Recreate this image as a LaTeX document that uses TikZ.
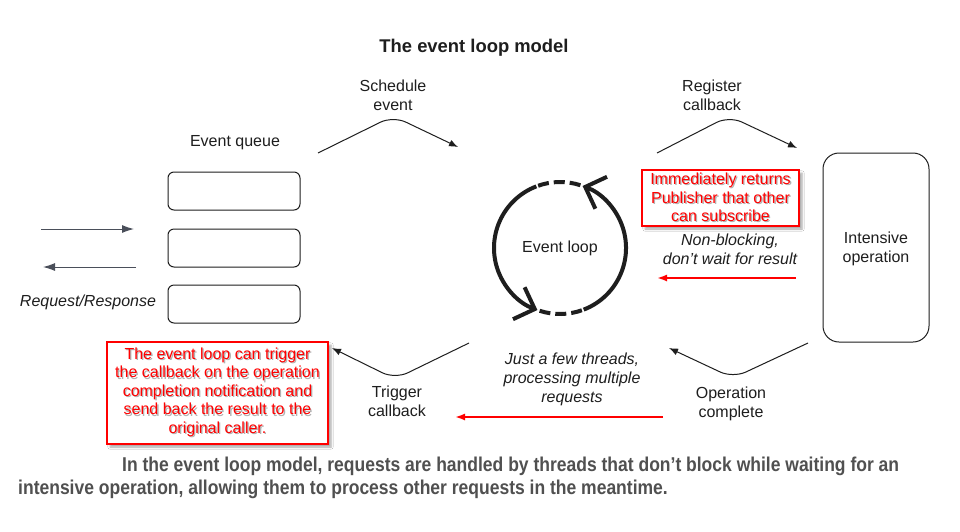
\documentclass[tikz,border=0pt]{standalone}
\usepackage{fontspec}
\setmainfont{Liberation Sans}
\newfontfamily\capfont[FakeStretch=0.875]{Liberation Sans}
\usetikzlibrary{arrows.meta,shadows.blur}
\definecolor{ink}{HTML}{1E1E1E}
\definecolor{arrowgray}{HTML}{4A4F5A}
\definecolor{capgray}{HTML}{505050}
\newcommand{\shtxt}[1]{\leavevmode\rlap{\hspace{1.3pt}\raisebox{-1.3pt}{\textcolor{black!30}{#1}}}#1}
\tikzset{
  lbl/.style={font=\fontsize{16}{19}\selectfont, text=ink, align=center, inner sep=0pt},
  itl/.style={lbl, font=\fontsize{16}{19}\selectfont\itshape},
  qbox/.style={draw=ink, line width=1pt, rounded corners=6pt, minimum width=132pt, minimum height=38pt, inner sep=0pt},
  flow/.style={draw=ink, line width=1pt, rounded corners=14pt, -{Latex[length=9pt,width=7pt]}},
  redarrow/.style={draw=red, line width=1.8pt, -{Latex[length=10pt,width=7pt]}},
  grayarrow/.style={draw=arrowgray, line width=1pt, -{Latex[length=12pt,width=8pt]}},
  note/.style={draw=red, line width=2.2pt, fill=white, text=red, align=center,
    font=\fontsize{16}{18.5}\selectfont, inner sep=0pt,
    blur shadow={shadow xshift=3pt, shadow yshift=-3pt, shadow blur steps=5, shadow opacity=35}},
  loop/.style={draw=ink, line width=4pt},
  barb/.style={-{Straight Barb[length=17pt,width=34pt]}}
}
\begin{document}
\begin{tikzpicture}[x=1pt,y=1pt]
\useasboundingbox[fill=white] (0,0) rectangle (960,-531);

% title
\node[lbl, font=\fontsize{18.4}{21}\selectfont\bfseries] (title) at (474,-48) {The event loop model};

% event queue
\node[lbl] (eqlabel) at (235,-143) {Event queue};
\node[qbox] (q1) at (234,-191) {};
\node[qbox] (q2) at (234,-248) {};
\node[qbox] (q3) at (234,-304) {};
\node[itl] (rr) at (88,-302) {Request/Response};
\coordinate (inA) at (41,-229);
\coordinate (inB) at (134,-229);
\coordinate (outA) at (136,-267);
\coordinate (outB) at (43,-267);
\draw[grayarrow] (inA) -- (inB);
\draw[grayarrow] (outA) -- (outB);

% schedule event
\node[lbl] (sched) at (393,-95) {Schedule\\event};
\coordinate (s1) at (318,-153);
\coordinate (sv) at (393,-116);
\coordinate (s2) at (458,-147);
\draw[flow] (s1) -- (sv) -- (s2);

% event loop
\node[lbl] (loopc) at (560,-248) {Event loop};
\draw[loop, barb] (560,-248) ++(-69:66) arc[start angle=-69, end angle=70, radius=66];
\draw[loop, dash pattern=on 11pt off 5pt] (560,-248) ++(72:66) arc[start angle=72, end angle=110, radius=66];
\draw[loop, barb] (560,-248) ++(111:66) arc[start angle=111, end angle=250, radius=66];
\draw[loop, dash pattern=on 11pt off 5pt] (560,-248) ++(252:66) arc[start angle=252, end angle=290, radius=66];

% register callback
\node[lbl] (reg) at (712,-95) {Register\\callback};
\coordinate (r1) at (657,-153);
\coordinate (rv) at (729,-116);
\coordinate (r2) at (797,-148);
\draw[flow] (r1) -- (rv) -- (r2);

% intensive operation
\node[draw=ink, line width=1pt, rounded corners=16pt, minimum width=106pt, minimum height=189pt] (intop) at (876,-247.5) {};
\node[lbl] (intxt) at (876,-249) {Intensive\\operation};

% red note top
\node[note, minimum width=157pt, minimum height=56pt] (note1) at (720.5,-198)
  {\shtxt{Immediately returns}\\\shtxt{Publisher that other}\\\shtxt{can subscribe}};

\node[itl] (nonblock) at (730,-249) {Non-blocking,\\don't wait for result};
\coordinate (ra1) at (796,-278);
\coordinate (ra2) at (657,-278);
\draw[redarrow] (ra1) -- (ra2);

% operation complete
\coordinate (o1) at (808,-343);
\coordinate (ov) at (733,-378);
\coordinate (o2) at (669,-348);
\draw[flow] (o1) -- (ov) -- (o2);
\node[lbl] (opc) at (731,-403.5) {Operation\\complete};

% threads
\node[itl] (threads) at (572,-379) {Just a few threads,\\processing multiple\\requests};
\coordinate (rb1) at (663,-417);
\coordinate (rb2) at (455,-417);
\draw[redarrow] (rb1) -- (rb2);

% trigger callback
\coordinate (t1) at (469,-343);
\coordinate (tv) at (395,-379);
\coordinate (t2) at (332,-348);
\draw[flow] (t1) -- (tv) -- (t2);
\node[lbl] (trig) at (397,-401.5) {Trigger\\callback};

% red note bottom
\node[note, minimum width=221pt, minimum height=102pt] (note2) at (217.5,-393)
  {\shtxt{The event loop can trigger}\\\shtxt{the callback on the operation}\\\shtxt{completion notification and}\\\shtxt{send back the result to the}\\\shtxt{original caller.}};

% caption
\node[anchor=west, inner sep=0pt, text=capgray, font=\capfont\fontsize{20}{23}\selectfont\bfseries] (cap1) at (122,-466)
  {In the event loop model, requests are handled by threads that don’t block while waiting for an};
\node[anchor=west, inner sep=0pt, text=capgray, font=\capfont\fontsize{20}{23}\selectfont\bfseries] (cap2) at (18,-489)
  {intensive operation, allowing them to process other requests in the meantime.};
\end{tikzpicture}
\end{document}
